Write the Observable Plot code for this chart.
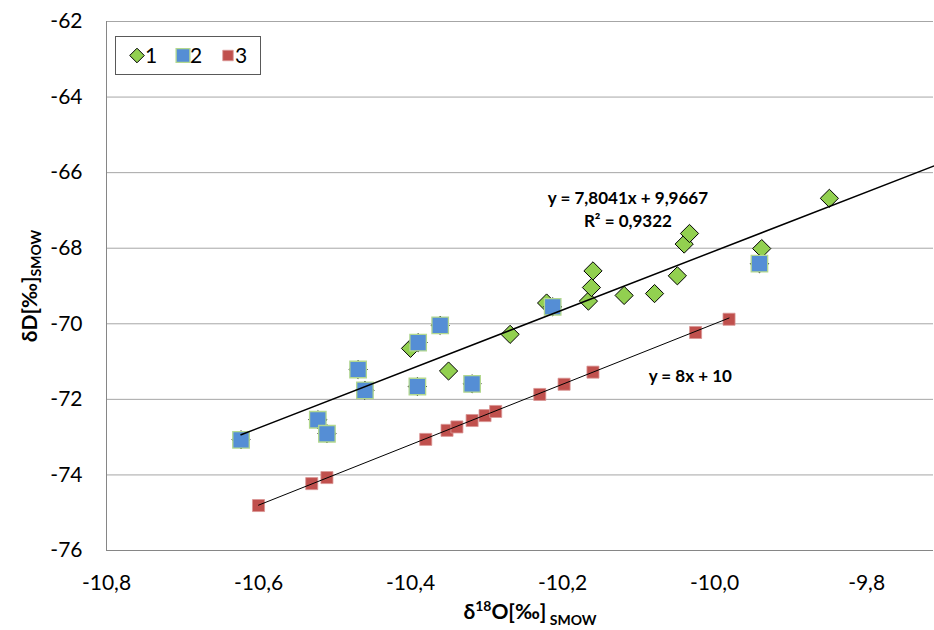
<!DOCTYPE html>
<html><head><meta charset="utf-8">
<script src="https://cdn.jsdelivr.net/npm/d3@7"></script>
<script src="https://cdn.jsdelivr.net/npm/@observablehq/plot@0.6"></script>
<style>
body{margin:0;background:#fff;}
#chart{position:relative;width:934px;height:630px;}
</style>
</head><body><div id="chart"></div>
<script>
// ---- data ----
const xTicks = [-10.8, -10.6, -10.4, -10.2, -10.0, -9.8];
const yTicks = [-76, -74, -72, -70, -68, -66, -64, -62];
const seriesNames = ["1", "2", "3"];

// series 1 (green diamonds visible)
const s1x = [-10.400, -10.350, -10.269, -10.221, -10.166, -10.162, -10.160, -10.119, -10.079, -10.049, -10.040, -10.033, -9.938, -9.849];
const s1y = [-70.65, -71.25, -70.28, -69.45, -69.40, -69.04, -68.60, -69.25, -69.20, -68.73, -67.89, -67.61, -68.01, -66.68];
// series 2 (blue squares; also belong to series 1 underneath)
const s2x = [-10.623, -10.522, -10.510, -10.469, -10.460, -10.390, -10.361, -10.391, -10.319, -10.213, -9.941];
const s2y = [-73.07, -72.54, -72.91, -71.21, -71.76, -70.50, -70.04, -71.66, -71.59, -69.55, -68.41];
// series 3 (red squares)
const s3x = [-10.600, -10.530, -10.510, -10.380, -10.352, -10.339, -10.319, -10.302, -10.288, -10.230, -10.198, -10.160, -10.025, -9.981];
const s3y = [-74.81, -74.23, -74.07, -73.06, -72.82, -72.73, -72.56, -72.43, -72.32, -71.87, -71.60, -71.28, -70.23, -69.88];

// trend lines  y = a*x + b
const fit1 = [7.8041, 9.9667];
const fit3 = [8, 10];
const fit1Label = ["y = 7,8041x + 9,9667", "R² = 0,9322"];
const fit3Label = ["y = 8x + 10"];

// ---- build ----
const xDomain = [-10.8, -9.712];
const yDomain = [-76, -62];
const pts = (xs, ys) => xs.map((x, i) => ({x, y: ys[i]}));
const g1 = pts(s1x.concat(s2x), s1y.concat(s2y));
const g2 = pts(s2x, s2y);
const g3 = pts(s3x, s3y);
const line1x = [d3.min(s1x.concat(s2x)), xDomain[1]];
const line1 = line1x.map(x => ({x, y: fit1[0] * x + fit1[1]}));
const line3x = [d3.min(s3x), d3.max(s3x)];
const line3 = line3x.map(x => ({x, y: fit3[0] * x + fit3[1]}));
const fmtX = d => d.toFixed(1).replace(".", ",").replace("\u2212", "-");
const fmtY = d => String(d);

const chart = Plot.plot({
  width: 934, height: 630,
  marginLeft: 106, marginRight: 1, marginTop: 21, marginBottom: 80,
  style: {fontFamily: "Lato, 'Open Sans', sans-serif", fontSize: "21px", color: "#000", background: "#fff", overflow: "visible"},
  x: {domain: xDomain, ticks: xTicks, tickFormat: fmtX},
  y: {domain: yDomain, ticks: yTicks, tickFormat: fmtY},
  marks: [
    Plot.gridY(yTicks, {stroke: "#a6a6a6", strokeOpacity: 1, strokeWidth: 1}),
    Plot.ruleX([xDomain[0]], {stroke: "#868686", strokeWidth: 1}),
    Plot.ruleY([yDomain[0]], {stroke: "#868686", strokeWidth: 1}),
    Plot.axisX(xTicks, {tickSize: 0, tickPadding: 25, tickFormat: fmtX, fontSize: 21, label: null}),
    Plot.axisY(yTicks, {tickSize: 0, tickPadding: 24, tickFormat: fmtY, fontSize: 21, label: null}),
    Plot.dot(g1, {x: "x", y: "y", symbol: "diamond2", r: 8.2, fill: "#92d050", stroke: "#000", strokeWidth: 1}),
    Plot.dot(g2, {x: "x", y: "y", symbol: "square", r: 9.3, fill: "#558ed5", stroke: "#b3d88f", strokeWidth: 1.3}),
    Plot.dot(g3, {x: "x", y: "y", symbol: "square", r: 6.8, fill: "#c0504d", stroke: "#d99694", strokeWidth: 0.8}),
    Plot.line(line1, {x: "x", y: "y", stroke: "#000", strokeWidth: 1.5}),
    Plot.line(line3, {x: "x", y: "y", stroke: "#000", strokeWidth: 1}),
    Plot.text([fit1Label[0]], {x: -10.114, y: -66.673, text: d => d, fontWeight: "bold", fontSize: 17, textAnchor: "middle"}),
    Plot.text([fit1Label[1]], {x: -10.114, y: -67.29, text: d => d, fontWeight: "bold", fontSize: 17, textAnchor: "middle"}),
    Plot.text([fit3Label[0]], {x: -10.032, y: -71.40, text: d => d, fontWeight: "bold", fontSize: 17, textAnchor: "middle"})
  ]
});
document.getElementById("chart").appendChild(chart);

// ---- axis titles & legend ----
const svg = d3.select(chart);
const fam = "Lato, 'Open Sans', sans-serif";
const yt = svg.append("text").attr("transform", "translate(37,286) rotate(-90)")
  .attr("text-anchor", "middle").attr("font-family", fam).attr("font-weight", "bold").attr("font-size", 21).attr("fill", "#000");
yt.append("tspan").text("δD[‰]");
yt.append("tspan").attr("font-size", 14).attr("dy", "0.3em").text("SMOW");

const xt = svg.append("text").attr("x", 530).attr("y", 619)
  .attr("text-anchor", "middle").attr("font-family", fam).attr("font-weight", "bold").attr("font-size", 21).attr("fill", "#000");
xt.append("tspan").text("δ");
xt.append("tspan").attr("font-size", 14).attr("dy", "-0.55em").text("18");
xt.append("tspan").attr("dy", "0.37em").text("O[‰]");
xt.append("tspan").attr("font-size", 14).attr("dy", "0.45em").text(" SMOW");

const lg = svg.append("g");
lg.append("rect").attr("x", 115.5).attr("y", 36.5).attr("width", 145).attr("height", 38)
  .attr("fill", "#fff").attr("stroke", "#595959").attr("stroke-width", 1);
const legendItems = [
  {sym: d3.symbolDiamond2, size: 136, fill: "#92d050", stroke: "#000", sw: 1, cx: 137, tx: 151},
  {sym: d3.symbolSquare, size: 190, fill: "#558ed5", stroke: "#b3d88f", sw: 1.3, cx: 183, tx: 196},
  {sym: d3.symbolSquare, size: 110, fill: "#c0504d", stroke: "#d99694", sw: 0.8, cx: 228, tx: 241}
];
legendItems.forEach((it, i) => {
  lg.append("path").attr("d", d3.symbol(it.sym, it.size)()).attr("transform", `translate(${it.cx},55.5)`)
    .attr("fill", it.fill).attr("stroke", it.stroke).attr("stroke-width", it.sw);
  lg.append("text").attr("x", it.tx).attr("y", 63).attr("font-family", fam).attr("font-size", 21).attr("fill", "#000").text(seriesNames[i]);
});
</script>
</body></html>
